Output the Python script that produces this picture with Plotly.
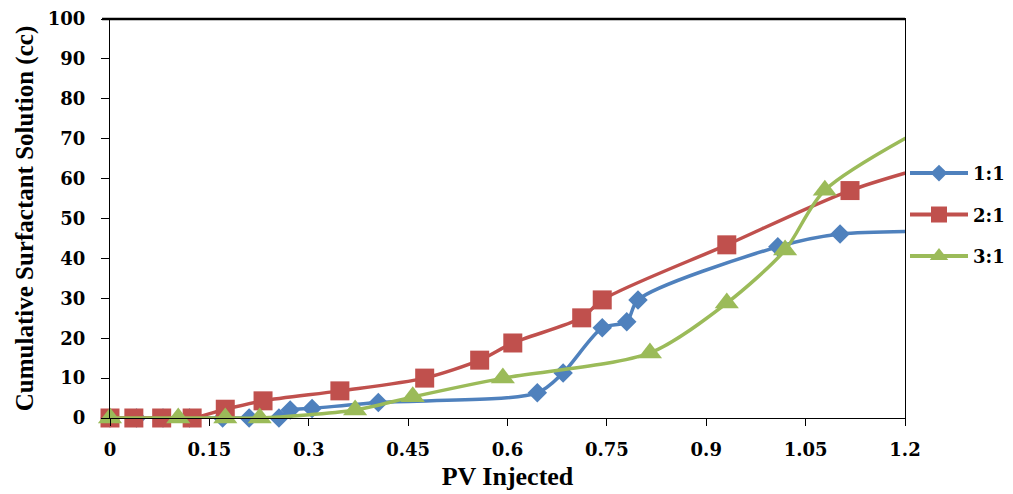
import plotly.graph_objects as go

# ---- data ----
pv_11 = [0, 0.04, 0.08, 0.12, 0.17, 0.21, 0.255, 0.272, 0.305, 0.405, 0.645, 0.684, 0.743, 0.78, 0.797, 1.008, 1.102]
cc_11 = [0, 0, 0, 0, 0, 0, 0, 2.0, 2.4, 3.9, 6.3, 11.3, 22.6, 24.1, 29.6, 42.9, 46.1]
ext_11 = ([1.3], [46.8])

pv_21 = [0, 0.036, 0.078, 0.124, 0.174, 0.231, 0.347, 0.475, 0.558, 0.608, 0.712, 0.743, 0.931, 1.117]
cc_21 = [0, 0, 0, 0, 2.2, 4.3, 6.8, 10.0, 14.5, 18.8, 25.1, 29.6, 43.4, 57.0]
ext_21 = ([1.3], [66.0])

pv_31 = [0, 0.103, 0.174, 0.226, 0.37, 0.457, 0.593, 0.815, 0.931, 1.019, 1.079]
cc_31 = [0, 0, 0, 0, 2.0, 5.3, 10.0, 16.3, 28.8, 42.1, 57.1]
ext_31 = ([1.3], [79.0])

series = [
    ("1:1", pv_11, cc_11, ext_11, "#4F81BD", "diamond", 15),
    ("2:1", pv_21, cc_21, ext_21, "#C0504D", "square", 19),
    ("3:1", pv_31, cc_31, ext_31, "#9BBB59", "triangle-up", 21),
]

x_ticks = [0, 0.15, 0.3, 0.45, 0.6, 0.75, 0.9, 1.05, 1.2]
x_tick_text = ["0", "0.15", "0.3", "0.45", "0.6", "0.75", "0.9", "1.05", "1.2"]

TICK_FONT = dict(family="DejaVu Serif", size=18, color="black", weight="bold")
XTITLE_FONT = dict(family="Liberation Serif", size=26, color="black", weight="bold")
YTITLE_FONT = dict(family="Liberation Serif", size=25, color="black", weight="bold")

fig = go.Figure()
for name, xs, ys, ext, col, sym, sz in series:
    # smoothed line (extends past the axis end, clipped by plot area)
    fig.add_trace(go.Scatter(
        x=xs + ext[0], y=ys + ext[1], mode="lines",
        line=dict(color=col, width=3.5, shape="spline", smoothing=0.8),
        showlegend=False, hoverinfo="skip", legendgroup=name))
    # markers
    fig.add_trace(go.Scatter(
        x=xs, y=ys, mode="markers", cliponaxis=False,
        marker=dict(color=col, symbol=sym, size=sz, line=dict(width=0)),
        showlegend=False, legendgroup=name, name=name))
    # legend entry
    fig.add_trace(go.Scatter(
        x=[None], y=[None], mode="lines+markers", name=name,
        line=dict(color=col, width=4),
        marker=dict(color=col, symbol=sym, size=sz - 2, line=dict(width=0)),
        legendgroup=name))

fig.update_layout(
    width=1013, height=494,
    margin=dict(l=110, r=108, t=19, b=76, autoexpand=False),
    paper_bgcolor="white", plot_bgcolor="white",
    showlegend=True,
    legend=dict(x=1.0, xanchor="left", y=0.509, yanchor="middle",
                font=dict(family="DejaVu Serif", size=18, color="black", weight="bold"),
                tracegroupgap=15, itemwidth=58, bgcolor="rgba(0,0,0,0)"),
    xaxis=dict(range=[0, 1.2], tickvals=x_ticks, ticktext=x_tick_text,
               showgrid=False, zeroline=False, showline=True, linecolor="black",
               linewidth=1.2, mirror=True, ticks="outside", ticklen=7, tickwidth=1.2,
               tickcolor="black", tickfont=TICK_FONT, ticklabelstandoff=8,
               title=dict(text="PV Injected", font=XTITLE_FONT, standoff=8)),
    yaxis=dict(range=[0, 100], dtick=10, showgrid=False, zeroline=False,
               showline=True, linecolor="black", linewidth=1.2, mirror=True,
               ticks="outside", ticklen=8, tickwidth=1.2, tickcolor="black",
               tickfont=TICK_FONT, ticklabelstandoff=12,
               title=dict(text="Cumulative Surfactant Solution (cc)", font=YTITLE_FONT,
                          standoff=6)),
)
# thicker top border as in the reference
fig.add_shape(type="line", xref="paper", yref="paper", x0=-0.01, x1=1.0, y0=1, y1=1,
              line=dict(color="black", width=2.5))

fig.write_html("out.html")
